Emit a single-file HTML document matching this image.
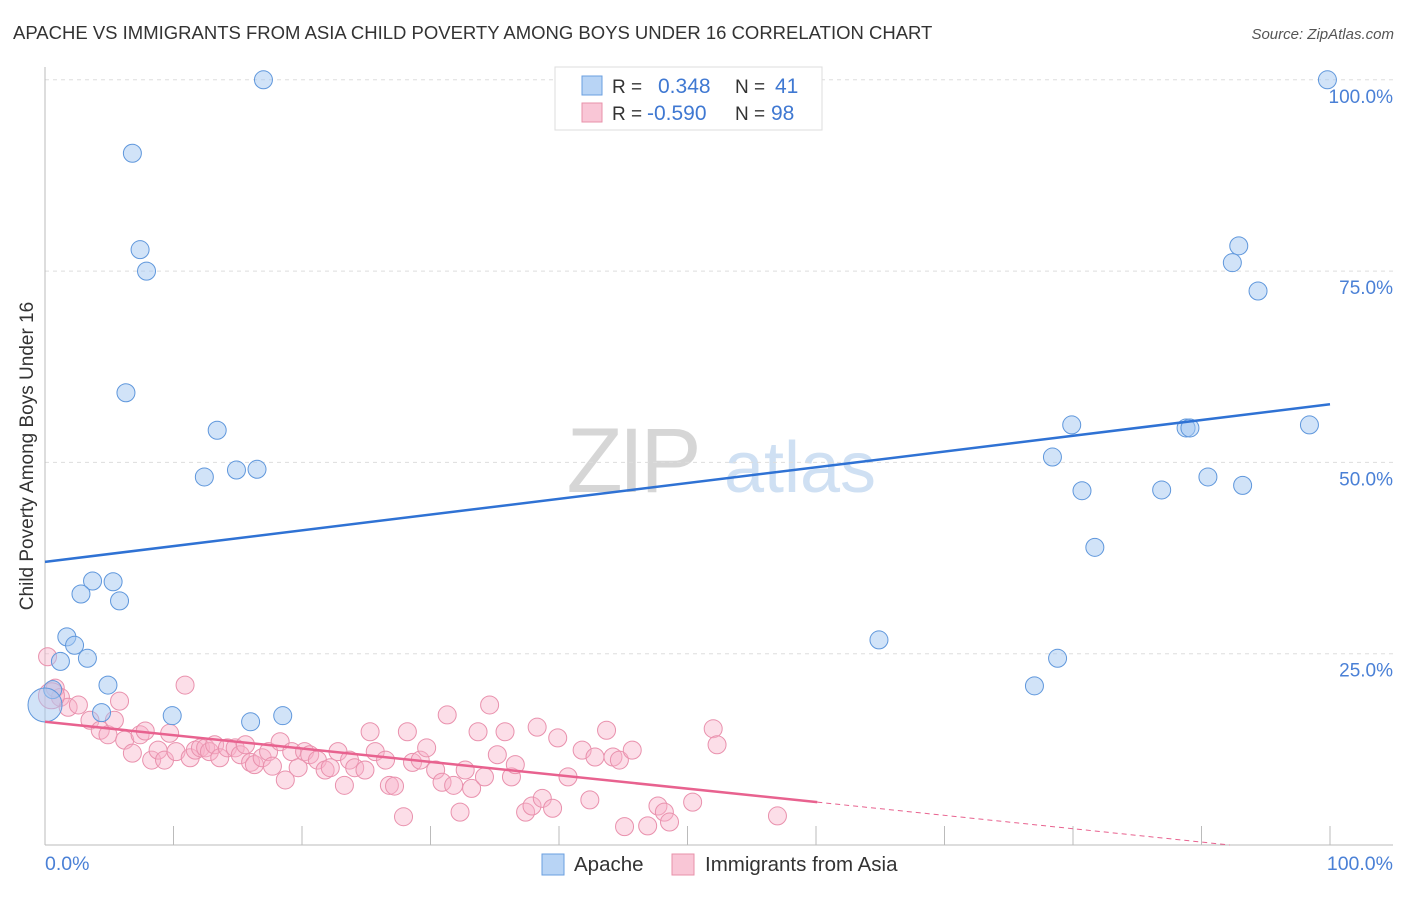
<!DOCTYPE html>
<html><head><meta charset="utf-8"><style>
body{margin:0;background:#fff;font-family:"Liberation Sans",sans-serif}
svg text{font-family:"Liberation Sans",sans-serif}
</style></head><body>
<svg width="1406" height="892" viewBox="0 0 1406 892" xmlns="http://www.w3.org/2000/svg">
<text x="13" y="39" font-size="18.5" fill="#333">APACHE VS IMMIGRANTS FROM ASIA CHILD POVERTY AMONG BOYS UNDER 16 CORRELATION CHART</text>
<text x="1394" y="39" font-size="15" fill="#555" font-style="italic" text-anchor="end">Source: ZipAtlas.com</text>
<g>
<text x="632" y="492" font-size="92" fill="#d6d6d6" font-family="Liberation Serif" text-anchor="middle" letter-spacing="-4">ZIP</text>
<text x="800" y="492" font-size="72" fill="#cfe0f3" text-anchor="middle">atlas</text>
</g>
<g id="grid"></g>
<line x1="45" y1="67" x2="45" y2="845" stroke="#bbb"/>
<line x1="45" y1="845" x2="1393" y2="845" stroke="#bbb"/>
<g id="ticks"></g>
<text transform="translate(33,456) rotate(-90)" font-size="19" fill="#333" text-anchor="middle">Child Poverty Among Boys Under 16</text>
<text x="45" y="870" font-size="19.5" fill="#4a80d6">0.0%</text>
<text x="1393" y="870" font-size="19.5" fill="#4a80d6" text-anchor="end">100.0%</text>
<g id="pts"></g>
<g id="lines"></g>
<g>
<rect x="555" y="67" width="267" height="63" fill="#fff" stroke="#ddd"/>
<rect x="582" y="76" width="20" height="19" fill="#b8d4f5" stroke="#6a9fe0"/>
<rect x="582" y="103" width="20" height="19" fill="#f9c6d6" stroke="#e891aa"/>
<text x="612" y="93" font-size="19" fill="#333">R = </text><text x="658" y="93" font-size="21" fill="#3f78d2">0.348</text>
<text x="735" y="93" font-size="19" fill="#333">N = </text><text x="775" y="93" font-size="21" fill="#3f78d2">41</text>
<text x="612" y="120" font-size="19" fill="#333">R = </text><text x="647" y="120" font-size="21" fill="#3f78d2">-0.590</text>
<text x="735" y="120" font-size="19" fill="#333">N = </text><text x="771" y="120" font-size="21" fill="#3f78d2">98</text>
</g>
<g>
<rect x="542" y="854" width="22" height="21" fill="#b8d4f5" stroke="#6a9fe0"/>
<text x="574" y="871" font-size="20.5" fill="#333">Apache</text>
<rect x="672" y="854" width="22" height="21" fill="#f9c6d6" stroke="#e891aa"/>
<text x="705" y="871" font-size="20.5" fill="#333">Immigrants from Asia</text>
</g>
</svg>
<script>
const yTicks=[25,50,75,100];
const yTickLabels=["25.0%","50.0%","75.0%","100.0%"];
const xTicks=[10,20,30,40,50,60,70,80,90,100];
const apacheX=[17.0,6.8,7.4,7.9,6.3,13.4,12.4,14.9,16.5,3.7,5.3,2.8,5.8,1.7,2.3,3.3,1.2,0.6,4.9,4.4,9.9,16.0,18.5,0.0,99.8,92.9,92.4,94.4,79.9,88.8,89.1,98.4,78.4,80.7,86.9,90.5,93.2,81.7,64.9,78.8,77.0];
const apacheY=[100,90.4,77.8,75.0,59.1,54.2,48.1,49.0,49.1,34.5,34.4,32.8,31.9,27.2,26.1,24.4,24.0,20.3,20.9,17.3,16.9,16.1,16.9,18.3,100,78.3,76.1,72.4,54.9,54.5,54.5,54.9,50.7,46.3,46.4,48.1,47.0,38.9,26.8,24.4,20.8];
const asiaX=[0.2,0.8,1.2,1.8,2.6,3.5,4.3,4.9,5.4,5.8,6.2,6.8,7.4,7.8,8.3,8.8,9.3,9.7,10.2,10.9,11.3,11.7,12.1,12.5,12.8,13.2,13.6,14.2,14.8,15.2,15.6,16.0,16.3,16.9,17.4,17.7,18.3,18.7,19.2,19.7,20.2,20.6,21.2,21.8,22.2,22.8,23.3,23.7,24.1,24.9,25.3,25.7,26.5,26.8,27.2,27.9,28.2,28.6,29.2,29.7,30.4,30.9,31.3,31.8,32.3,32.7,33.2,33.7,34.2,34.6,35.2,35.8,36.3,36.6,37.4,37.9,38.3,38.7,39.5,39.9,40.7,41.8,42.4,42.8,43.7,44.2,44.7,45.1,45.7,46.9,47.7,48.2,48.6,50.4,52.0,52.3,57.0,0.5];
const asiaY=[24.6,20.5,19.3,18.0,18.3,16.3,15.0,14.4,16.3,18.8,13.7,12.0,14.4,14.9,11.1,12.4,11.1,14.6,12.2,20.9,11.4,12.4,12.7,12.7,12.2,13.1,11.4,12.7,12.7,11.8,13.1,10.8,10.5,11.4,12.2,10.3,13.5,8.5,12.2,10.1,12.2,11.8,11.1,9.8,10.1,12.2,7.8,11.1,10.1,9.8,14.8,12.2,11.1,7.8,7.7,3.7,14.8,10.8,11.1,12.7,9.8,8.2,17.0,7.8,4.3,9.8,7.4,14.8,8.9,18.3,11.8,14.8,8.9,10.5,4.3,5.1,15.4,6.1,4.8,14.0,8.9,12.4,5.9,11.5,15.0,11.5,11.1,2.4,12.4,2.5,5.1,4.3,3.0,5.6,15.2,13.1,3.8,19.5];
const apacheTrend=[[0,37.0],[100,57.6]];
const asiaTrend=[[0,16.1],[60.1,5.6]];
const asiaTrendExt=[[60.1,5.6],[92.2,0]];
const NS="http://www.w3.org/2000/svg";
function sx(v){return 45+v*12.85;}
function sy(v){return 845-v*7.652;}
function mk(tag,attrs,parent){const e=document.createElementNS(NS,tag);for(const k in attrs)e.setAttribute(k,attrs[k]);parent.appendChild(e);return e;}
const grid=document.getElementById('grid');
yTicks.forEach((t,i)=>{
 const l=mk('line',{x1:45,x2:1393,y1:sy(t),y2:sy(t),stroke:'#ddd','stroke-dasharray':'4,4'},grid);
 
 
 const tx=mk('text',{x:1393,y:sy(t)+23,'font-size':19,fill:'#4a80d6','text-anchor':'end'},grid);
 tx.textContent=yTickLabels[i];
 
 
});
const tk=document.getElementById('ticks');
xTicks.forEach(t=>{
 const l=mk('line',{x1:sx(t),x2:sx(t),y1:826,y2:845,stroke:'#bbb'},tk);
 
 
});
const pts=document.getElementById('pts');
asiaX.forEach((x,i)=>{
 const c=mk('circle',{cx:sx(x),cy:sy(asiaY[i]),r:i===asiaX.length-1?13:9,fill:'rgba(248,176,200,0.42)',stroke:'#e991ad','stroke-width':1},pts);
 
 
});
apacheX.forEach((x,i)=>{
 const c=mk('circle',{cx:sx(x),cy:sy(apacheY[i]),r:i===23?17:9,fill:'rgba(164,200,242,0.5)',stroke:'#5f97dc','stroke-width':1},pts);
 
 
});
const lg=document.getElementById('lines');
const bl=mk('line',{x1:sx(apacheTrend[0][0]),y1:sy(apacheTrend[0][1]),x2:sx(apacheTrend[1][0]),y2:sy(apacheTrend[1][1]),stroke:'#2f72d4','stroke-width':2.5},lg);


const pl=mk('line',{x1:sx(asiaTrend[0][0]),y1:sy(asiaTrend[0][1]),x2:sx(asiaTrend[1][0]),y2:sy(asiaTrend[1][1]),stroke:'#e8628f','stroke-width':2.5},lg);


const pe=mk('line',{x1:sx(asiaTrendExt[0][0]),y1:sy(asiaTrendExt[0][1]),x2:sx(asiaTrendExt[1][0]),y2:sy(asiaTrendExt[1][1]),stroke:'#e8628f','stroke-width':1,'stroke-dasharray':'5,4'},lg);


</script>
</body></html>
